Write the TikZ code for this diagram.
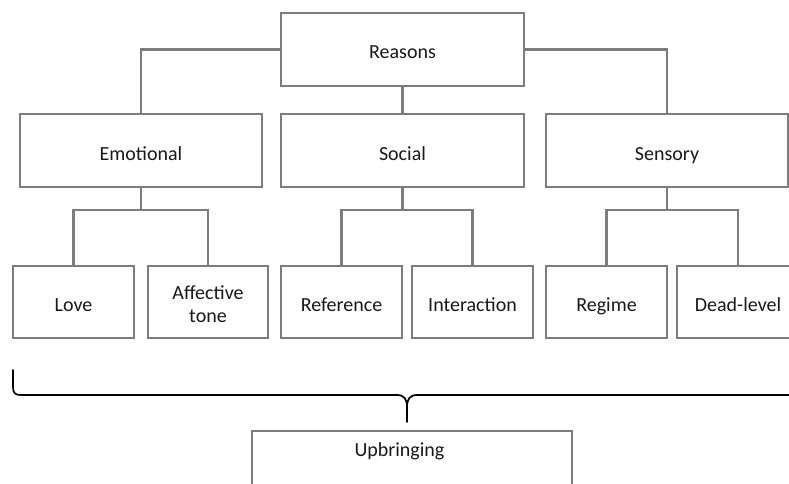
\documentclass[tikz,border=0pt]{standalone}
\usepackage{fontspec}
\setmainfont{Carlito}
\definecolor{boxgray}{RGB}{125,125,125}
\definecolor{txtgray}{RGB}{25,25,25}
\begin{document}
\begin{tikzpicture}[x=1pt,y=-1pt,
  box/.style={draw=boxgray,line width=2.1pt,fill=white,minimum height=73pt,
    font=\fontsize{20}{22.7}\selectfont,text=txtgray,align=center,inner sep=0pt,
    text height=19pt,text depth=0pt},
  conn/.style={draw=boxgray,line width=2.1pt},
  brace/.style={draw=black,line width=1.7pt}]
\useasboundingbox (0,0) rectangle (789,484);
\clip (0,0) rectangle (789,484);
\fill[white] (0,0) rectangle (789,484);
% top
\node[box,minimum width=243pt] (reasons) at (402.5,49.5) {Reasons};
\node[box,minimum width=242pt] (emo) at (141,150.5) {Emotional};
\node[box,minimum width=243pt] (soc) at (402.5,150.5) {Social};
\node[box,minimum width=242pt] (sen) at (667,150.5) {Sensory};
% leaves
\node[box,minimum width=121pt,minimum height=72pt] (love) at (73.5,302) {Love};
\node[box,minimum width=120pt,minimum height=72pt,text height=41pt,text depth=0pt] (aff) at (208,302) {Affective\\tone};
\node[box,minimum width=121pt,minimum height=72pt] (ref) at (341.5,302) {Reference};
\node[box,minimum width=121pt,minimum height=72pt] (int) at (472.5,302) {Interaction};
\node[box,minimum width=121pt,minimum height=72pt] (reg) at (606.5,302) {Regime};
\node[box,minimum width=122pt,minimum height=72pt] (dead) at (738,302) {Dead-level};
% connectors
\draw[conn] (reasons.west) -| (emo.north);
\draw[conn] (reasons.east) -| (sen.north);
\draw[conn] (reasons.south) -- (soc.north);
\draw[conn] (emo.south) -- ++(0,22) coordinate (e1);
\draw[conn] (love.north) |- (e1) -| (aff.north);
\draw[conn] (soc.south) -- ++(0,22) coordinate (s1);
\draw[conn] (ref.north) |- (s1) -| (int.north);
\draw[conn] (sen.south) -- ++(0,22) coordinate (n1);
\draw[conn] (reg.north) |- (n1) -| (dead.north);
% upbringing
\node[box,minimum width=320pt,minimum height=74pt] (upb) at (412,468) {};
\node[font=\fontsize{20}{22}\selectfont,text=txtgray,inner sep=0pt,anchor=base] (upbtxt) at (399.5,456) {Upbringing};
% brace
\coordinate (bl) at (13,370);
\coordinate (bc) at (407,422);
\coordinate (br) at (795,395);
\draw[brace,line cap=round,line join=round] (bl) -- (13,387) .. controls (13,393) and (15,395) .. (21,395) -- (397,395) .. controls (404,395) and (407,399) .. (407,407) -- (bc);
\draw[brace,line join=round] (br) -- (417,395) .. controls (410,395) and (407,399) .. (407,407);
\end{tikzpicture}
\end{document}
